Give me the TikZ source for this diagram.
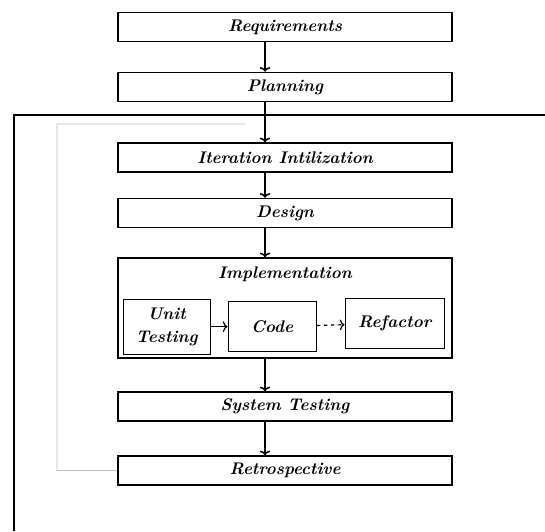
\documentclass[tikz,border=0pt]{standalone}
\usepackage{tikz}
\usetikzlibrary{positioning,arrows,arrows.meta}
\tikzstyle{stage}=[draw, minimum height = 0.87cm, minimum width=10.02cm, line width=1.3pt, font=\Large\bfseries\itshape]
\tikzstyle{sub}=[draw, minimum height = 1.5cm, line width=1.1pt, font=\Large\bfseries\itshape, align=center]
\tikzstyle{flow}=[->, line width=1.3pt]
\begin{document}
\begin{tikzpicture}[node distance=2cm,auto,>={To[length=4pt,width=9pt]}]
\useasboundingbox (0,0) rectangle (16.35,-15.93);
  \node[stage] at (8.55,-0.81) (req) {Requirements};
  \node[stage, below of = req, node distance = 1.8cm] (plan) {Planning};
  \node[stage, below of = plan, node distance = 2.115cm] (iter) {Iteration Intilization};
  \node[stage, below of = iter, node distance = 1.665cm] (design) {Design};
  \node[stage, below of = design, node distance = 2.85cm, minimum height = 3cm] (impl) {};
  \node[font=\Large\bfseries\itshape] at ([yshift=-0.51cm]impl.north) (impltitle) {Implementation};
  \node[stage, below of = impl, node distance = 2.955cm] (systest) {System Testing};
  \node[stage, below of = systest, node distance = 1.92cm] (retro) {Retrospective};

% inner steps of the implementation
  \node[sub, minimum width = 2.61cm, minimum height = 1.65cm, inner sep = 2pt] at (5.0,-9.8) (unit) {Unit\\[2pt]Testing};
  \node[sub, right of = unit, node distance = 3.165cm, minimum width = 2.64cm] (code) {Code};
  \node[sub, right of = code, node distance = 3.675cm, minimum width = 2.97cm, yshift = 0.1cm] (refac) {Refactor};
  \draw[->, line width = 1pt] (unit) -- (code);
  \draw[->, dashed, line width = 1pt] (code) -- (refac);

\draw[flow] ([xshift=-0.6cm]req.south) -- ([xshift=-0.6cm]plan.north);
\draw[flow] ([xshift=-0.6cm]plan.south) -- ([xshift=-0.6cm]iter.north);
\draw[flow] ([xshift=-0.6cm]iter.south) -- ([xshift=-0.6cm]design.north);
\draw[flow] ([xshift=-0.6cm]design.south) -- ([xshift=-0.6cm]impl.north);
\draw[flow] ([xshift=-0.6cm]impl.south) -- ([xshift=-0.6cm]systest.north);
\draw[flow] ([xshift=-0.6cm]systest.south) -- ([xshift=-0.6cm]retro.north);

% iteration frame and loop back
\coordinate (framebot) at (0.42,-15.93);
\coordinate (frameright) at (16.35,-3.45);
\draw[line width = 1.3pt] (framebot) |- (frameright);
\coordinate (loopend) at (7.35,-3.72);
\draw[gray!50, line width = 0.8pt] (retro.west) -- (1.71,-14.115) |- (loopend);
\end{tikzpicture}
\end{document}
